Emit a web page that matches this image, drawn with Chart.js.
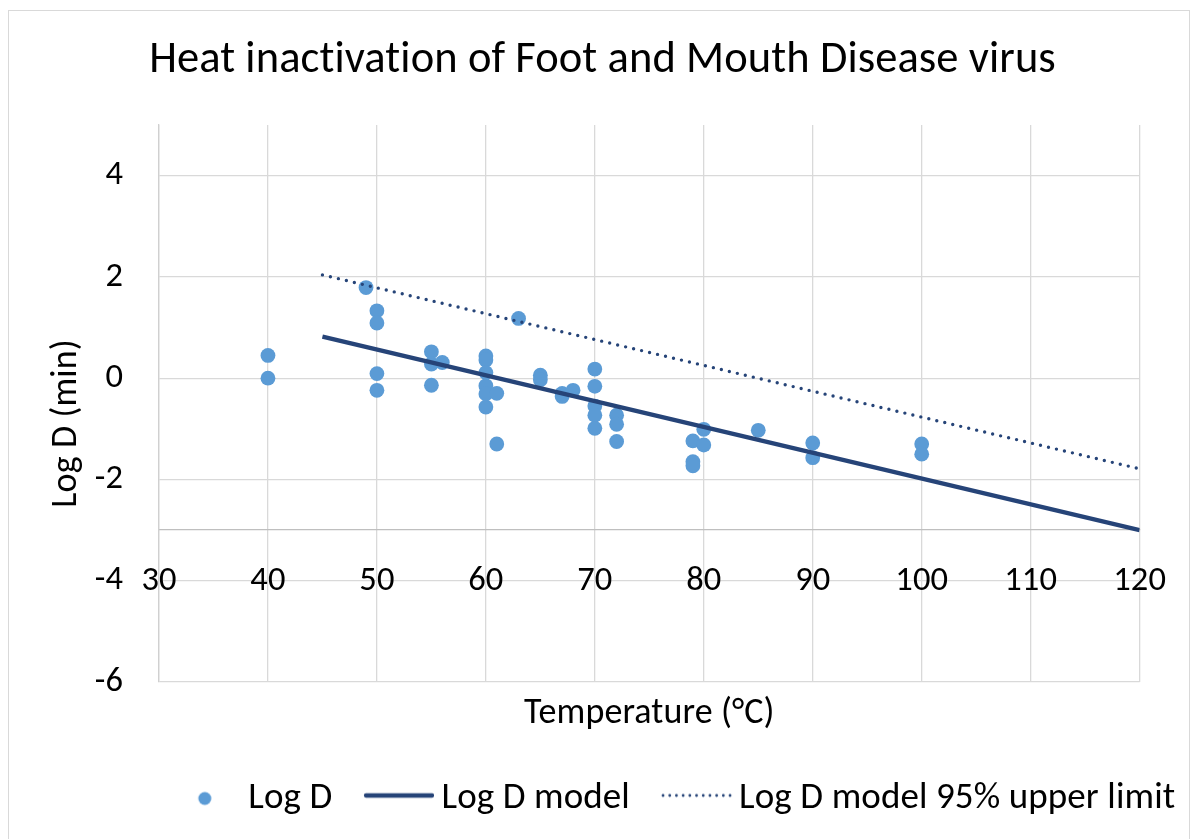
<!DOCTYPE html>
<html><head><meta charset="utf-8">
<script src="https://cdn.jsdelivr.net/npm/chart.js@4.4.1/dist/chart.umd.min.js"></script>
<style>
html,body{margin:0;padding:0;background:#fff;}
#frame{position:absolute;left:8px;top:10px;width:1182px;height:840px;border:1px solid #d9d9d9;box-sizing:border-box;}
#wrap{position:absolute;left:0;top:0;width:1197px;height:839px;}
</style></head><body>
<div id="frame"></div>
<div id="wrap"><canvas id="c" width="1197" height="839"></canvas></div>
<script>
// ---- data ----
const temperature = [40, 40, 49, 50, 50, 50, 50, 55, 55, 55, 56,
  60, 60, 60, 60, 60, 60, 61, 61, 63, 65, 65, 67, 67, 68,
  70, 70, 70, 70, 70, 72, 72, 72, 79, 79, 79, 80, 80, 85, 90, 90, 100, 100];
const logD = [0.45, 0.00, 1.79, 1.33, 1.09, 0.09, -0.24, 0.52, 0.28, -0.14, 0.31,
  0.44, 0.36, 0.11, -0.15, -0.31, -0.57, -0.30, -1.30, 1.18, 0.06, -0.03, -0.36, -0.30, -0.24,
  0.18, -0.16, -0.55, -0.73, -0.99, -0.73, -0.91, -1.25, -1.24, -1.65, -1.73, -1.01, -1.32, -1.03, -1.28, -1.57, -1.30, -1.50];
const modelTemp = [45, 120];
const modelLogD = [0.82, -3.00];
const upperTemp = [45, 120];
const upperLogD = [2.04, -1.79];
const xTicks = [30, 40, 50, 60, 70, 80, 90, 100, 110, 120];
const yTicks = [-6, -4, -2, 0, 2, 4];
const seriesNames = ['Log D', 'Log D model', 'Log D model 95% upper limit'];
const chartTitle = 'Heat inactivation of Foot and Mouth Disease virus';
const xTitle = 'Temperature (°C)';
const yTitle = 'Log D (min)';

const FONT = 'Carlito, Calibri, Lato, sans-serif';
const TXT = '#000000';
const LINE = '#264478';
const PT = '#5B9BD5';

// legend marker images
function mk(w, h, draw) { const c = document.createElement('canvas'); c.width = w; c.height = h; draw(c.getContext('2d')); return c; }
const legendDot = mk(16, 16, g => { g.fillStyle = PT; g.beginPath(); g.arc(8, 8, 6.5, 0, Math.PI * 2); g.closePath(); g.fill(); });
const legendSolid = mk(72, 20, g => { g.strokeStyle = LINE; g.lineWidth = 4.3; g.lineCap = 'round'; g.beginPath(); g.moveTo(4, 7); g.lineTo(70, 7); g.stroke(); });
const legendDotted = mk(81, 20, g => { g.strokeStyle = LINE; g.lineWidth = 2.8; g.lineCap = 'round'; g.setLineDash([0, 6.7]); g.beginPath(); g.moveTo(8, 7); g.lineTo(80, 7); g.stroke(); });
const legendImgs = [legendDot, legendSolid, legendDotted];

const toXY = (xs, ys) => xs.map((x, i) => ({x: x, y: ys[i]}));

const layoutTweak = {
  id: 'layoutTweak',
  beforeUpdate(chart) { chart.ctx.letterSpacing = '0.1px'; },
  afterLayout(chart) {
    if (chart.legend) { chart.legend.left = 115; chart.legend.right = 1240; }
    if (chart.titleBlock) { chart.titleBlock.left = 0; chart.titleBlock.right = 1205; }
  },
  beforeDraw(chart) { chart.ctx.letterSpacing = '0.1px'; },
  afterDraw(chart) {
    const ctx = chart.ctx, a = chart.chartArea;
    ctx.save();
    ctx.translate(a.left - 92, (a.top + a.bottom) / 2 + 20);
    ctx.rotate(-Math.PI / 2);
    ctx.font = '36px ' + FONT;
    ctx.fillStyle = TXT;
    ctx.textAlign = 'center';
    ctx.textBaseline = 'middle';
    ctx.fillText(yTitle, 0, 0);
    ctx.restore();
  }
};

new Chart(document.getElementById('c'), {
  type: 'scatter',
  data: {
    datasets: [
      { label: seriesNames[0], data: toXY(temperature, logD), backgroundColor: PT, borderColor: PT,
        pointRadius: 7.4, pointHoverRadius: 7.4, borderWidth: 0, order: 3 },
      { label: seriesNames[1], data: toXY(modelTemp, modelLogD), showLine: true, borderColor: LINE,
        backgroundColor: LINE, borderWidth: 4.3, pointRadius: 0, order: 1 },
      { label: seriesNames[2], data: toXY(upperTemp, upperLogD), showLine: true, borderColor: LINE,
        backgroundColor: LINE, borderWidth: 3.4, borderDash: [0, 8.2], borderCapStyle: 'round',
        pointRadius: 0, order: 2 }
    ]
  },
  plugins: [layoutTweak],
  options: {
    responsive: false,
    animation: false,
    devicePixelRatio: 1,
    layout: { padding: { left: 0, right: 57, top: 0, bottom: 12 } },
    scales: {
      x: {
        type: 'linear', position: { y: -3 }, min: 30, max: 120,
        afterBuildTicks: s => { s.ticks = xTicks.map(v => ({ value: v })); },
        ticks: { font: { family: FONT, size: 34.5 }, color: TXT, padding: 31, maxRotation: 0, autoSkip: false },
        grid: { color: '#d9d9d9', lineWidth: 1.3, drawTicks: false },
        border: { color: '#bfbfbf', width: 1.3 }
      },
      y: {
        type: 'linear', position: 'left', min: -6, max: 5,
        afterBuildTicks: s => { s.ticks = yTicks.map(v => ({ value: v })); },
        afterFit: s => { s.width = 159; },
        ticks: { font: { family: FONT, size: 34.5 }, color: TXT, padding: 36 },
        grid: { color: '#d9d9d9', lineWidth: 1.3, drawTicks: false },
        border: { color: '#d0d0d0', width: 1.3 },
        title: { display: false }
      }
    },
    plugins: {
      title: { display: true, text: chartTitle,
        font: { family: FONT, size: 44.5, weight: 'normal' }, color: TXT, padding: { top: 34, bottom: 37.6 } },
      subtitle: { display: true, position: 'bottom', fullSize: false, weight: 500, text: xTitle,
        font: { family: FONT, size: 36, weight: 'normal' }, color: TXT, padding: { top: 10, bottom: 4.2 } },
      legend: {
        position: 'bottom',
        labels: {
          usePointStyle: true, pointStyleWidth: 50, padding: 40.6,
          font: { family: FONT, size: 37 }, color: TXT,
          sort: (a, b) => a.datasetIndex - b.datasetIndex,
          generateLabels: chart => {
            const items = Chart.defaults.plugins.legend.labels.generateLabels(chart);
            items.forEach(it => {
              it.pointStyle = legendImgs[it.datasetIndex];
              it.lineWidth = 1; it.rotation = 0; it.hidden = false;
              it.strokeStyle = it.datasetIndex === 0 ? PT : LINE;
              it.fillStyle = it.strokeStyle;
            });
            return items;
          }
        }
      },
      tooltip: { enabled: false }
    }
  }
});
</script>
</body></html>
